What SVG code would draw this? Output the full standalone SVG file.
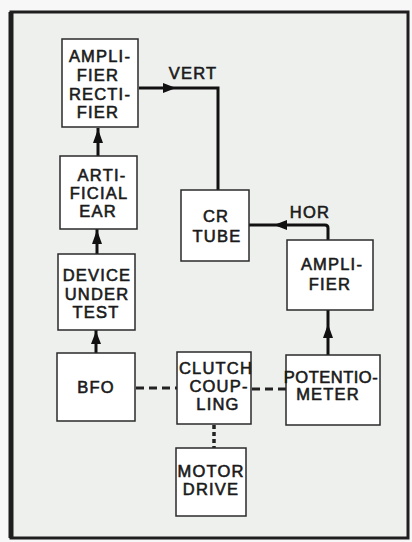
<svg xmlns="http://www.w3.org/2000/svg" width="412" height="542" viewBox="0 0 412 542">
<defs>
<style>
.box{fill:#ffffff;stroke:#2a2a2a;stroke-width:1.5}
.t{font-family:"Liberation Sans",Arial,sans-serif;font-weight:normal;font-size:16.5px;letter-spacing:1.2px;fill:#1a1a1a;stroke:#1a1a1a;stroke-width:0.6px;text-anchor:middle}
.w{fill:none;stroke:#111;stroke-width:3}
.dash{fill:none;stroke:#222;stroke-width:3;stroke-dasharray:8 5}
.dot{fill:none;stroke:#222;stroke-width:3.5;stroke-dasharray:4 3}
.ah{fill:#111}
</style>
</defs>
<rect x="0" y="0" width="412" height="542" fill="#f7f7f7"/>
<rect x="11" y="12" width="397" height="526" fill="#eef0ee" stroke="#1e1e1e" stroke-width="3"/>
<line x1="11" y1="12" x2="11" y2="538" stroke="#1e1e1e" stroke-width="5"/>

<g id="connectors">
  <path class="w" d="M98 156 V128"/>
  <polygon class="ah" points="98,129 93,143 103,143"/>
  <path class="w" d="M97 254 V229"/>
  <polygon class="ah" points="97,230 92,244 102,244"/>
  <path class="w" d="M96 353 V330"/>
  <polygon class="ah" points="96,331 91,344 101,344"/>
  <path class="w" d="M328 355 V310"/>
  <polygon class="ah" points="328,324 323,338 333,338"/>
  <path class="w" d="M139 88 H218 V190"/>
  <polygon class="ah" points="176,88 163,83 163,93"/>
  <path class="w" d="M328 240 V228 Q328 225 325 225 H249"/>
  <polygon class="ah" points="274,225 287,220 287,230"/>
  <path class="dash" d="M136 388 H177"/>
  <path class="dash" d="M252 389 H286"/>
  <path class="dot" d="M214 425 V448"/>
</g>

<g id="amp-rect">
  <rect class="box" x="62" y="39" width="76" height="88"/>
  <text class="t" x="100" y="62">AMPLI-</text>
  <text class="t" x="98" y="81">FIER</text>
  <text class="t" x="100" y="100">RECTI-</text>
  <text class="t" x="98" y="118">FIER</text>
</g>
<g id="artificial-ear">
  <rect class="box" x="60" y="156" width="77" height="73"/>
  <text class="t" x="102" y="181">ARTI-</text>
  <text class="t" x="99" y="199">FICIAL</text>
  <text class="t" x="98" y="217">EAR</text>
</g>
<g id="device-under-test">
  <rect class="box" x="58" y="254" width="77" height="76"/>
  <text class="t" x="97" y="281">DEVICE</text>
  <text class="t" x="97" y="300">UNDER</text>
  <text class="t" x="96" y="318">TEST</text>
</g>
<g id="bfo">
  <rect class="box" x="57" y="353" width="78" height="68"/>
  <text class="t" x="96" y="393">BFO</text>
</g>
<g id="clutch-coupling">
  <rect class="box" x="177" y="352" width="74" height="72"/>
  <text class="t" x="216" y="374">CLUTCH</text>
  <text class="t" x="219" y="392">COUP-</text>
  <text class="t" x="218" y="410">LING</text>
</g>
<g id="potentiometer">
  <rect class="box" x="286" y="355" width="94" height="70"/>
  <text class="t" x="331" y="383" style="letter-spacing:0.5px">POTENTIO-</text>
  <text class="t" x="328" y="400">METER</text>
</g>
<g id="motor-drive">
  <rect class="box" x="176" y="448" width="70" height="68"/>
  <text class="t" x="211" y="477">MOTOR</text>
  <text class="t" x="211" y="495">DRIVE</text>
</g>
<g id="cr-tube">
  <rect class="box" x="181" y="190" width="68" height="71"/>
  <text class="t" x="216" y="222">CR</text>
  <text class="t" x="217" y="242">TUBE</text>
</g>
<g id="amplifier">
  <rect class="box" x="287" y="240" width="86" height="70"/>
  <text class="t" x="332" y="270">AMPLI-</text>
  <text class="t" x="330" y="290">FIER</text>
</g>
<g id="labels">
  <text class="t" x="193" y="79">VERT</text>
  <text class="t" x="310" y="218">HOR</text>
</g>
</svg>
